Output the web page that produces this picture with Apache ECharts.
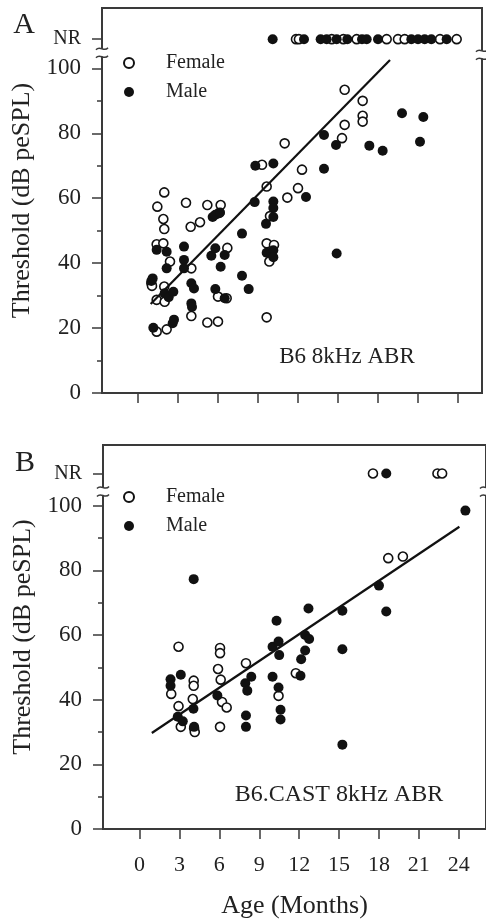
<!DOCTYPE html>
<html>
<head>
<meta charset="utf-8">
<title>ABR threshold vs age</title>
<script src="https://cdn.jsdelivr.net/npm/echarts@6/dist/echarts.min.js"></script>
<style>
  html, body { margin: 0; padding: 0; background: #fff; }
  #chart { width: 486px; height: 922px; }
</style>
</head>
<body>
<div id="chart"></div>
<script>
// values: [age (months), threshold (dB peSPL)]
var NR_A = 109;
var NR_B = 110;

var ageTicks = [0, 3, 6, 9, 12, 15, 18, 21, 24];
var dbTicks = [0, 20, 40, 60, 80, 100];
var dbMinorTicks = [10, 30, 50, 70, 90];

// panel A : B6
var femaleA = [
  [1.0, 33.8], [1.05, 33.0], [1.4, 28.7], [1.4, 18.9], [1.4, 45.8], [1.45, 57.4], [1.9, 53.6],
  [1.97, 61.8], [1.97, 50.5], [1.9, 46.1], [1.97, 32.8], [2.0, 28.1], [2.15, 19.6], [2.4, 40.5],
  [3.6, 58.6], [3.95, 51.2], [4.0, 38.4], [4.0, 23.7], [4.65, 52.6], [5.2, 57.9], [5.2, 21.7],
  [6.0, 22.0], [6.0, 29.7], [6.1, 55.5], [6.2, 57.9], [6.65, 29.2], [6.7, 44.7],
  [9.3, 70.3], [9.65, 63.6], [9.9, 54.5], [9.65, 46.1], [10.2, 45.6], [9.85, 40.5], [9.65, 23.3],
  [11.0, 76.9], [11.2, 60.2], [12.0, 63.1], [12.3, 68.8],
  [15.3, 78.5], [15.5, 82.6], [15.5, 93.4], [16.85, 90.0], [16.85, 85.4], [16.85, 83.6]
];
var maleA = [
  [1.0, 34.5], [1.1, 35.3], [1.15, 20.1], [1.4, 44.1], [2.0, 30.7], [2.15, 43.5], [2.15, 38.4],
  [2.3, 29.5], [2.6, 21.5], [2.7, 22.6], [2.65, 31.2],
  [3.45, 45.1], [3.45, 41.0], [3.45, 38.4], [4.0, 33.8], [4.2, 32.2], [4.0, 27.6], [4.05, 26.5],
  [5.5, 42.3], [5.6, 54.2], [5.8, 54.9], [5.8, 44.6], [5.8, 32.0], [6.15, 55.6], [6.2, 38.9],
  [6.5, 42.5], [6.5, 29.2],
  [7.8, 49.1], [7.8, 36.1], [8.3, 32.0], [8.75, 58.8], [8.8, 70.0], [9.6, 52.1], [9.65, 43.2],
  [10.15, 70.7], [10.15, 59.0], [10.15, 57.0], [10.15, 54.2], [10.15, 44.0], [10.15, 41.8], [12.6, 60.4],
  [13.95, 79.5], [13.95, 69.1], [14.85, 76.4], [14.9, 43.0], [17.35, 76.2], [18.35, 74.6],
  [19.8, 86.2], [21.15, 77.4], [21.4, 85.0]
];
// ages of animals with no response (plotted on the NR row)
var femaleNrA = [11.85, 12.07, 14.53, 15.4, 16.4, 18.65, 19.5, 20.0, 22.65, 23.9];
var maleNrA = [10.1, 12.45, 13.7, 14.15, 14.9, 15.7, 16.8, 17.15, 18.0, 20.5, 21.0, 21.5, 22.0, 23.15];
var fitA = [[0.95, 27.4], [18.9, 102.6]];

// panel B : B6.CAST
var femaleB = [
  [2.38, 41.8], [2.93, 56.4], [2.93, 38.0], [3.1, 31.6], [4.0, 40.2], [4.07, 45.9], [4.07, 44.3],
  [4.1, 31.2], [4.15, 30.0], [5.9, 49.5], [6.05, 56.0], [6.05, 54.4], [6.1, 46.2], [6.2, 39.3],
  [6.55, 37.6], [6.05, 31.6], [8.0, 51.3], [10.45, 41.2], [11.75, 48.2], [18.7, 83.8], [19.8, 84.3]
];
var maleB = [
  [2.33, 46.3], [2.33, 44.3], [2.87, 34.7], [3.1, 47.7], [3.25, 33.3], [4.05, 37.2], [4.07, 77.3],
  [4.1, 31.6], [5.85, 41.3], [7.95, 45.1], [8.0, 35.1], [8.0, 31.6], [8.1, 42.8], [8.4, 47.1],
  [10.0, 47.1], [10.0, 56.4], [10.3, 64.4], [10.45, 58.0], [10.45, 43.8], [10.5, 53.8], [10.6, 36.9],
  [10.6, 33.9], [12.1, 47.4], [12.15, 52.5], [12.45, 55.2], [12.45, 60.0], [12.75, 58.8], [12.7, 68.2],
  [15.25, 67.5], [15.25, 55.6], [15.25, 26.1], [18.0, 75.3], [18.55, 67.3], [24.5, 98.5]
];
var femaleNrB = [17.55, 22.4, 22.75];
var maleNrB = [18.55];
var fitB = [[0.92, 29.7], [24.05, 93.5]];

var serif = '"Liberation Serif", "Times New Roman", serif';
var ink = '#111';
var frame = '#3a3a3a';
var textColor = '#222';

function withNr(points, nrAges, nr) {
  return points.concat(nrAges.map(function (a) { return [a, nr]; }));
}

function xAxisFor(grid, min, max, withLabels) {
  return {
    type: 'value', gridIndex: grid, min: min, max: max,
    axisLine: { onZero: false, lineStyle: { color: frame, width: 2 } },
    axisTick: { customValues: ageTicks, length: 10, lineStyle: { color: frame, width: 1.5 } },
    axisLabel: {
      show: withLabels, customValues: ageTicks, margin: 25,
      color: textColor, fontFamily: serif, fontSize: 22
    },
    splitLine: { show: false },
    name: withLabels ? 'Age (Months)' : '',
    nameLocation: 'middle', nameGap: 64,
    nameTextStyle: { fontFamily: serif, fontSize: 26, color: textColor }
  };
}

function yAxisFor(grid, max, nr) {
  return {
    type: 'value', gridIndex: grid, min: 0, max: max, position: 'left',
    axisLine: { onZero: false, lineStyle: { color: frame, width: 2 } },
    axisTick: { customValues: dbTicks.concat([nr]), length: 10, lineStyle: { color: frame, width: 1.5 } },
    axisLabel: {
      customValues: dbTicks.concat([nr]), margin: 21,
      color: textColor, fontFamily: serif, fontSize: 23,
      formatter: function (v) { return Math.abs(v - nr) < 0.01 ? '{nr|NR}' : String(v); },
      rich: { nr: { fontFamily: serif, fontSize: 20, color: textColor } }
    },
    splitLine: { show: false },
    name: 'Threshold (dB peSPL)',
    nameLocation: 'middle', nameRotate: 90, nameGap: 64,
    nameTextStyle: { fontFamily: serif, fontSize: 26, color: textColor }
  };
}

function yMinorFor(grid, max) {
  return {
    type: 'value', gridIndex: grid, min: 0, max: max, position: 'left', offset: 0,
    axisLine: { show: false, onZero: false },
    axisTick: { customValues: dbMinorTicks, length: 5, lineStyle: { color: frame, width: 1.5 } },
    axisLabel: { show: false },
    splitLine: { show: false }
  };
}

function openSeries(x, y, data) {
  return {
    type: 'scatter', name: 'Female', xAxisIndex: x, yAxisIndex: y, data: data,
    symbol: 'circle', symbolSize: 9, silent: true,
    itemStyle: { color: '#fff', borderColor: ink, borderWidth: 1.6, opacity: 1 }
  };
}
function filledSeries(x, y, data) {
  return {
    type: 'scatter', name: 'Male', xAxisIndex: x, yAxisIndex: y, data: data,
    symbol: 'circle', symbolSize: 10, silent: true,
    itemStyle: { color: ink, opacity: 1 }
  };
}
function fitSeries(x, y, data) {
  return {
    type: 'line', xAxisIndex: x, yAxisIndex: y, data: data, z: 3,
    symbol: 'none', silent: true,
    lineStyle: { color: ink, width: 2.2 }
  };
}

function legendAt(top) {
  return {
    data: ['Female', 'Male'], orient: 'vertical', left: 123, top: top,
    itemWidth: 10, itemHeight: 10, itemGap: 9, padding: 0, selectedMode: false,
    icon: 'circle',
    textStyle: { fontFamily: serif, fontSize: 20, lineHeight: 20, color: textColor, padding: [0, 0, 0, 27] }
  };
}

var chart = echarts.init(document.getElementById('chart'), null, { renderer: 'canvas' });

var option = {
  backgroundColor: '#fff',
  animation: false,
  grid: [
    { left: 102, top: 8, width: 380, height: 385, show: true, borderColor: frame, borderWidth: 2 },
    { left: 103, top: 445, width: 384, height: 384, show: true, borderColor: frame, borderWidth: 2 }
  ],
  xAxis: [
    xAxisFor(0, -2.7, 25.8, false),
    xAxisFor(1, -2.75, 26.05, true)
  ],
  yAxis: [
    yAxisFor(0, 118.6, NR_A),
    yMinorFor(0, 118.6),
    yAxisFor(1, 118.8, NR_B),
    yMinorFor(1, 118.8)
  ],
  legend: [legendAt(53), legendAt(487)],
  series: [
    openSeries(0, 0, withNr(femaleA, femaleNrA, NR_A)),
    filledSeries(0, 0, withNr(maleA, maleNrA, NR_A)),
    fitSeries(0, 0, fitA),
    openSeries(1, 2, withNr(femaleB, femaleNrB, NR_B)),
    filledSeries(1, 2, withNr(maleB, maleNrB, NR_B)),
    fitSeries(1, 2, fitB)
  ]
};
chart.setOption(option);

// axis-break marks between 100 and NR, placed through the axes
function squiggle(x, y) {
  return {
    type: 'bezierCurve', z: 101, silent: true,
    shape: { x1: x - 6, y1: y + 1, cpx1: x - 2, cpy1: y - 4, cpx2: x + 2, cpy2: y + 4, x2: x + 6, y2: y - 1 },
    style: { stroke: frame, lineWidth: 1.5, fill: null }
  };
}
function breakMark(seriesIndex, xVal, yVal) {
  var p = chart.convertToPixel({ seriesIndex: seriesIndex }, [xVal, yVal]);
  return [
    { type: 'rect', z: 100, silent: true, shape: { x: p[0] - 3, y: p[1] - 4, width: 6, height: 8 }, style: { fill: '#fff' } },
    squiggle(p[0], p[1] - 4),
    squiggle(p[0], p[1] + 4)
  ];
}
function label(text, x, y, size) {
  return {
    type: 'text', x: x, y: y, z: 102, silent: true,
    style: { text: text, font: size + 'px ' + serif, fill: textColor, align: 'center', verticalAlign: 'middle' }
  };
}

var elements = []
  .concat(breakMark(0, -2.7, 104.8))
  .concat(breakMark(0, 25.8, 104.2))
  .concat(breakMark(3, -2.75, 104.4))
  .concat(breakMark(3, 26.05, 104.4))
  .concat([
    label('A', 24, 25, 30),
    label('B', 25, 463, 30),
    label('B6 8kHz ABR', 347, 357, 23),
    label('B6.CAST 8kHz ABR', 339, 795, 24)
  ]);

chart.setOption({ graphic: { elements: elements } });
</script>
</body>
</html>
